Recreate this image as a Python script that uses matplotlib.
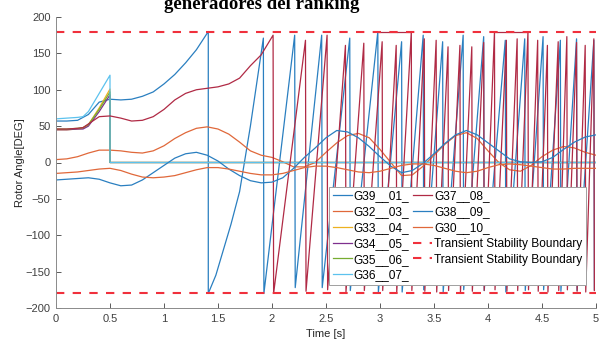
import numpy as np
from matplotlib import pyplot as plt

# time grid of the smooth traces (0.1 s steps)
t_grid = [round(0.1 * i, 1) for i in range(51)]

g38_09 = [-24, -23, -22, -21, -23, -28, -32, -31, -24, -14, -4, 6, 12, 14, 10, 2, -9, -18, -25, -28,
          -27, -21, -8, 7, 20, 34, 44, 42, 34, 22, 8, -5, -14, -11, -1, 12, 26, 38, 44, 38,
          27, 16, 5, 1, 0, 1, 7, 18, 28, 35, 38]
g32_03 = [4, 5, 8, 13, 17, 17, 16, 14, 13, 16, 23, 33, 41, 47, 49, 46, 39, 28, 16, 10,
          7, 1, -6, -6, 0, 14, 27, 37, 40, 34, 18, 0, -18, -17, -5, 10, 25, 37, 41, 33,
          16, 0, -10, -12, -4, 8, 17, 22, 20, 14, 10]
g30_10 = [-15, -14, -13, -11, -9, -8, -11, -16, -20, -21, -20, -18, -14, -10, -7, -7, -9, -12, -15, -17,
          -17, -15, -11, -7, -5, -5, -7, -10, -13, -14, -12, -8, -4, -2, -2, -4, -8, -12, -14, -12,
          -7, -3, -2, -3, -5, -7, -9, -9, -8, -8, -8]

# generators that trip at 0.5 s
t_trip = [0, 0.1, 0.2, 0.25, 0.3, 0.4, 0.5, 0.5, 5.0]
g33_04 = [45, 45, 46, 47, 52, 75, 101, 0, 0]
g34_05 = [45, 45, 46, 46, 50, 70, 93, 0, 0]
g35_06 = [46, 46, 47, 48, 52, 73, 97, 0, 0]
g36_07 = [60, 61, 62, 63, 70, 95, 120, 0, 0]

# G39_01: smooth part, then pole slipping
g39_t = [0, 0.1, 0.2, 0.3, 0.4, 0.5, 0.6, 0.7, 0.8, 0.9, 1.0, 1.1, 1.2, 1.3, 1.41,
         1.41, 1.48, 1.55, 1.62, 1.70, 1.80]
g39_v = [57, 57, 58, 66, 83, 87, 86, 87, 91, 97, 108, 121, 137, 155, 180,
         -180, -155, -120, -85, -40, 50]
g39_peak_t = [1.92, 2.21, 2.46, 2.72, 2.98, 3.20, 3.40, 3.58, 3.77, 3.96, 4.16, 4.34, 4.51, 4.67, 4.82, 4.98]
g39_peak_v = [171, 175, 175, 171, 180, 166, 175, 166, 175, 173, 168, 170, 173, 168, 170, 168]
g39_floor_v = [-180, -172, -172, -176, -178, -178, -175, -178, -175, -176, -178, -176, -175, -177, -176, -175]

# G37_08: smooth part, then pole slipping
g37_t = [0, 0.1, 0.2, 0.25, 0.3, 0.4, 0.5, 0.6, 0.7, 0.8, 0.9, 1.0, 1.1, 1.2, 1.3, 1.4, 1.5,
         1.6, 1.7, 1.8, 1.9]
g37_v = [46, 46, 47, 48, 53, 63, 64, 61, 57, 58, 63, 73, 86, 95, 100, 102, 104,
         108, 116, 133, 148]
g37_peak_t = [2.01, 2.31, 2.51, 2.68, 2.85, 3.02, 3.15, 3.29, 3.41, 3.52, 3.63, 3.74, 3.85, 3.96,
              4.06, 4.17, 4.27, 4.37, 4.46, 4.55, 4.65, 4.73, 4.82, 4.90, 4.98]
g37_peak_v = [175, 168, 175, 161, 164, 166, 161, 180, 170, 168, 159, 161, 159, 165,
              180, 168, 170, 180, 168, 161, 166, 173, 165, 161, 170]
g37_floor_v = [-180, -177, -175, -178, -176, -176, -178, -176, -177, -178, -176, -178, -177, -176,
               -175, -177, -176, -175, -177, -178, -176, -175, -177, -178, -176]
hold_start = [2.98, 4.06]
hold_end = [3.29, 4.37]

boundary = 180


def slipping(t0, v0, peak_t, peak_v, floor_v):
    t = list(t0)
    v = list(v0)
    for pt, pv, fv in zip(peak_t, peak_v, floor_v):
        t += [pt, pt + 0.005]
        v += [pv, fv]
    return t, v


c = ['#2a7fc0', '#e0683a', '#EDB120', '#7E2F8E', '#77AC30', '#5cc2ee', '#b02a45']
lw = 0.9

plt.rcParams['font.family'] = ['Liberation Sans', 'DejaVu Sans']
fig = plt.figure(figsize=(6.11, 3.41), dpi=100)
ax = fig.add_axes([56 / 611, 1 - 308 / 341, 540 / 611, 291 / 341])

t39, v39 = slipping(g39_t, g39_v, g39_peak_t, g39_peak_v, g39_floor_v)
t37, v37 = slipping(g37_t, g37_v, g37_peak_t, g37_peak_v, g37_floor_v)

ax.plot(t39, v39, color=c[0], lw=lw, label='G39__01_')
ax.plot(t_grid, g32_03, color=c[1], lw=lw, label='G32__03_')
ax.plot(t_trip, g33_04, color=c[2], lw=lw, label='G33__04_')
ax.plot(t_trip, g34_05, color=c[3], lw=lw, label='G34__05_')
ax.plot(t_trip, g35_06, color=c[4], lw=lw, label='G35__06_')
ax.plot(t_trip, g36_07, color=c[5], lw=lw, label='G36__07_')
ax.plot(t37, v37, color=c[6], lw=lw, label='G37__08_')
ax.hlines([boundary] * len(hold_start), hold_start, hold_end, color=c[6], lw=lw)
ax.plot(t_grid, g38_09, color=c[0], lw=lw, label='G38__09_')
ax.plot(t_grid, g30_10, color=c[1], lw=lw, label='G30__10_')
ax.plot([0, 5], [boundary, boundary], '--', color='#F0303C', lw=1.5, dashes=(4, 4),
        label='Transient Stability Boundary')
ax.plot([0, 5], [-boundary, -boundary], '--', color='#F0303C', lw=1.5, dashes=(4, 4),
        label='Transient Stability Boundary')

ax.set_xlim(0, 5)
ax.set_ylim(-200, 200)
ax.set_xticks(np.arange(0, 5.01, 0.5))
ax.set_xticklabels(['0', '0.5', '1', '1.5', '2', '2.5', '3', '3.5', '4', '4.5', '5'])
ax.set_yticks(np.arange(-200, 201, 50))
ax.tick_params(direction='in', length=3.5, width=0.6, colors='#404040', labelsize=8, pad=4)
for s in ['top', 'right']:
    ax.spines[s].set_visible(False)
for s in ['left', 'bottom']:
    ax.spines[s].set_color('#8a8a8a')
    ax.spines[s].set_linewidth(0.7)

ax.set_xlabel('Time [s]', fontsize=8, color='#262626', labelpad=4)
ax.set_ylabel('Rotor Angle[DEG]', fontsize=8, color='#262626')
ax.yaxis.set_label_coords(-0.057, 0.5)

leg = ax.legend(ncol=2, loc='lower right', bbox_to_anchor=(0.981, 0.079), borderaxespad=0,
                fontsize=8.6, handlelength=1.6, handletextpad=0.15, columnspacing=0.3,
                labelspacing=0.32, borderpad=0.3, fancybox=False, framealpha=1)
leg.get_frame().set_edgecolor('#a0a0a0')
leg.get_frame().set_linewidth(0.7)

fig.text(262 / 611, 1 - 9 / 341, 'generadores del ranking', ha='center', va='baseline',
         fontsize=13.5, fontweight='bold', family='Liberation Serif')

fig.savefig('out.png', dpi=100)
